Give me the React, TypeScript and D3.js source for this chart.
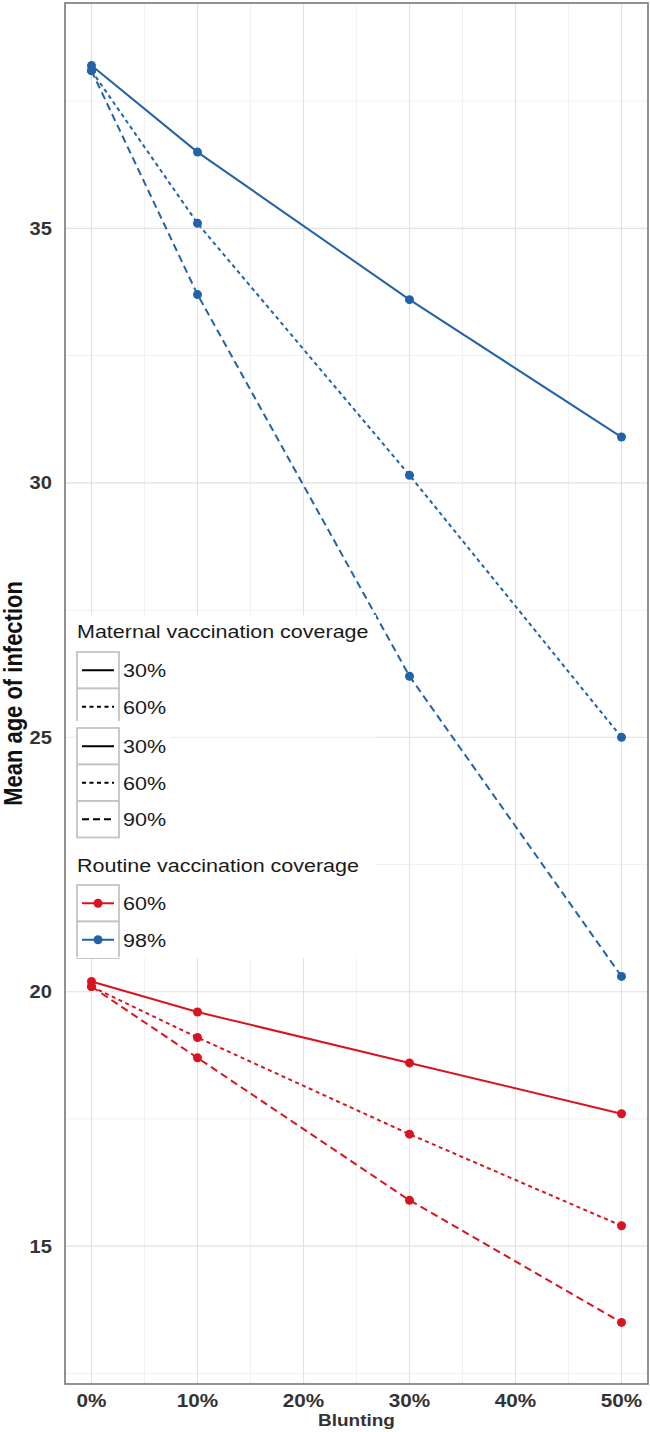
import React from "react";
import * as d3 from "d3";

const blunting = [0, 10, 30, 50];
const xTicks = [0, 10, 20, 30, 40, 50];
const xMinor = [5, 15, 25, 35, 45];
const yTicks = [15, 20, 25, 30, 35];
const yMinor = [12.5, 17.5, 22.5, 27.5, 32.5, 37.5];

const routineLabels = ["60%", "98%"];
const routineColors = ["#D9141E", "#2163A8"];
const maternalLabels = ["30%", "60%", "90%"];

const red30 = [20.2, 19.6, 18.6, 17.6];
const red60 = [20.1, 19.1, 17.2, 15.4];
const red90 = [20.1, 18.7, 15.9, 13.5];
const blue30 = [38.2, 36.5, 33.6, 30.9];
const blue60 = [38.1, 35.1, 30.15, 25.0];
const blue90 = [38.1, 33.7, 26.2, 20.3];

const dashes = ["none", "4,3.5", "7.5,4.5"];
const keyDashes = ["none", "4,3.5", "7,4"];

const series = [
  { routine: 0, maternal: 0, values: red30 },
  { routine: 0, maternal: 1, values: red60 },
  { routine: 0, maternal: 2, values: red90 },
  { routine: 1, maternal: 0, values: blue30 },
  { routine: 1, maternal: 1, values: blue60 },
  { routine: 1, maternal: 2, values: blue90 },
];

const SX = 1.15;
const FONT = "'Liberation Sans', Arial, Helvetica, sans-serif";

function SText(props: any) {
  const { x, y, size, weight, anchor, fill, rotate, children, baseline } = props;
  return (
    <text
      transform={`translate(${x},${y}) scale(${SX},1)${rotate ? ` rotate(${rotate})` : ""}`}
      fontSize={size}
      fontWeight={weight || "normal"}
      textAnchor={anchor || "start"}
      fill={fill || "#1a1a1a"}
      fontFamily={FONT}
      dominantBaseline={baseline || "auto"}
    >
      {children}
    </text>
  );
}

export default function App() {
  const W = 650;
  const H = 1432;
  const left = 65, right = 648, top = 3, bottom = 1384;
  const x = d3.scaleLinear().domain([-2.5, 52.5]).range([left, right]);
  const y = d3.scaleLinear().domain([12.29, 39.43]).range([bottom, top]);
  const line = d3
    .line<number>()
    .x((_, i) => x(blunting[i]))
    .y((v) => y(v));

  // legend layout
  const lgX = 77, keyW = 42, keyH = 36.5;
  const g1Title = 638, g1Top = 652;
  const g2Top = 728;
  const g3Title = 872, g3Top = 885;

  const keyBox = (yy: number, k: string) => (
    <rect key={k} x={lgX} y={yy} width={keyW} height={keyH} fill="#fff" stroke="#c4c4c4" strokeWidth={1.8} />
  );

  return (
    <svg width={W} height={H} style={{ position: "absolute", left: 0, top: 0, background: "#fff" }}>
      <rect x={0} y={0} width={W} height={H} fill="#fff" />
      {/* minor grid */}
      {xMinor.map((t) => (
        <line key={"xm" + t} x1={x(t)} x2={x(t)} y1={top} y2={bottom} stroke="#f1f1f1" strokeWidth={1} />
      ))}
      {yMinor.map((t) => (
        <line key={"ym" + t} y1={y(t)} y2={y(t)} x1={left} x2={right} stroke="#f1f1f1" strokeWidth={1} />
      ))}
      {xTicks.map((t) => (
        <line key={"xg" + t} x1={x(t)} x2={x(t)} y1={top} y2={bottom} stroke="#e2e2e2" strokeWidth={1.1} />
      ))}
      {yTicks.map((t) => (
        <line key={"yg" + t} y1={y(t)} y2={y(t)} x1={left} x2={right} stroke="#e2e2e2" strokeWidth={1.1} />
      ))}

      {/* lines */}
      {series.map((s, i) => (
        <path
          key={"l" + i}
          d={line(s.values) || ""}
          fill="none"
          stroke={routineColors[s.routine]}
          strokeWidth={2}
          strokeDasharray={dashes[s.maternal]}
        />
      ))}
      {series.map((s, i) =>
        s.values.map((v, j) => (
          <circle key={"p" + i + "-" + j} cx={x(blunting[j])} cy={y(v)} r={4.5} fill={routineColors[s.routine]} />
        ))
      )}

      {/* legend */}
      <rect x={left + 1} y={615} width={375 - left} height={958 - 615} fill="#fff" />
      <line x1={left + 1} x2={lgX} y1={y(25)} y2={y(25)} stroke="#ececec" strokeWidth={1} />
      <line x1={170} x2={375} y1={y(25)} y2={y(25)} stroke="#ececec" strokeWidth={1} />
      <SText x={lgX} y={g1Title} size={18.7}>Maternal vaccination coverage</SText>
      {[0, 1].map((m) => (
        <g key={"g1" + m}>
          {keyBox(g1Top + m * keyH, "kb1" + m)}
          <line x1={lgX + 5} x2={lgX + keyW - 5} y1={g1Top + m * keyH + keyH / 2} y2={g1Top + m * keyH + keyH / 2} stroke="#000" strokeWidth={2} strokeDasharray={keyDashes[m]} />
          <SText x={lgX + keyW + 4} y={g1Top + m * keyH + keyH / 2 + 7} size={18.7}>{maternalLabels[m]}</SText>
        </g>
      ))}
      <rect x={lgX - 2} y={g1Top + 2 * keyH - 4} width={keyW + 4} height={g2Top - (g1Top + 2 * keyH - 4) - 1} fill="#fff" />
      {maternalLabels.map((lab, m) => (
        <g key={"g2" + m}>
          {keyBox(g2Top + m * keyH, "kb2" + m)}
          <line x1={lgX + 5} x2={lgX + keyW - 5} y1={g2Top + m * keyH + keyH / 2} y2={g2Top + m * keyH + keyH / 2} stroke="#000" strokeWidth={2} strokeDasharray={keyDashes[m]} />
          <SText x={lgX + keyW + 4} y={g2Top + m * keyH + keyH / 2 + 7} size={18.7}>{lab}</SText>
        </g>
      ))}
      <SText x={lgX} y={g3Title} size={18.7}>Routine vaccination coverage</SText>
      {routineLabels.map((lab, r) => (
        <g key={"g3" + r}>
          {keyBox(g3Top + r * keyH, "kb3" + r)}
          <line x1={lgX + 5} x2={lgX + keyW - 5} y1={g3Top + r * keyH + keyH / 2} y2={g3Top + r * keyH + keyH / 2} stroke={routineColors[r]} strokeWidth={2} />
          <circle cx={lgX + keyW / 2} cy={g3Top + r * keyH + keyH / 2} r={4.5} fill={routineColors[r]} />
          <SText x={lgX + keyW + 4} y={g3Top + r * keyH + keyH / 2 + 7} size={18.7}>{lab}</SText>
        </g>
      ))}
      <rect x={lgX - 2} y={g3Top + 2 * keyH - 1} width={keyW + 4} height={958 - (g3Top + 2 * keyH - 1)} fill="#fff" />

      {/* panel border */}
      <rect x={left} y={top} width={right - left} height={bottom - top} fill="none" stroke="#777" strokeWidth={1.6} />

      {/* axes labels */}
      {yTicks.map((t) => (
        <SText key={"yl" + t} x={52} y={y(t) + 6.5} size={17.5} weight="bold" anchor="end" fill="#333">
          {t}
        </SText>
      ))}
      {xTicks.map((t) => (
        <SText key={"xl" + t} x={x(t)} y={1407} size={18} weight="bold" anchor="middle" fill="#333">
          {t + "%"}
        </SText>
      ))}
      <SText x={(left + right) / 2} y={1426} size={16.5} weight="bold" anchor="middle" fill="#333">
        Blunting
      </SText>
      <SText x={22} y={(top + bottom) / 2} size={22} weight="bold" anchor="middle" fill="#111" rotate={-90}>
        Mean age of infection
      </SText>
    </svg>
  );
}
